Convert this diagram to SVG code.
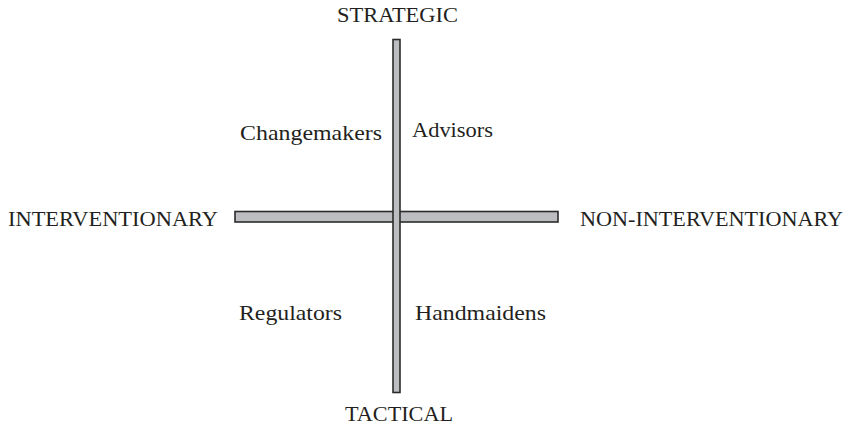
<svg xmlns="http://www.w3.org/2000/svg" width="848" height="428" viewBox="0 0 848 428">
<style>
.t{font-family:"Liberation Serif","Times New Roman",serif;font-size:20px;fill:#231f20}
.q{font-size:21px}
.bar{fill:#bcbdc0;stroke:#2b2b2b;stroke-width:1.6}
</style>
<rect width="848" height="428" fill="#fff"/>
<g id="axes">
<rect id="h-axis" class="bar" x="235" y="211.5" width="323" height="10.5"/>
<rect id="v-axis" class="bar" x="393" y="39.5" width="7" height="353"/>
</g>
<g id="strategic"><text class="t" x="337" y="22" textLength="121" lengthAdjust="spacingAndGlyphs">STRATEGIC</text></g>
<g id="tactical"><text class="t" x="345" y="421" textLength="108" lengthAdjust="spacingAndGlyphs">TACTICAL</text></g>
<g id="interventionary"><text class="t" x="8" y="226" textLength="210" lengthAdjust="spacingAndGlyphs">INTERVENTIONARY</text></g>
<g id="non-interventionary"><text class="t" x="580" y="226" textLength="263" lengthAdjust="spacingAndGlyphs">NON-INTERVENTIONARY</text></g>
<g id="changemakers"><text class="t q" x="240" y="140" textLength="142" lengthAdjust="spacingAndGlyphs">Changemakers</text></g>
<g id="advisors"><text class="t q" x="412" y="137" textLength="81" lengthAdjust="spacingAndGlyphs">Advisors</text></g>
<g id="regulators"><text class="t q" x="239" y="320" textLength="103" lengthAdjust="spacingAndGlyphs">Regulators</text></g>
<g id="handmaidens"><text class="t q" x="415" y="320" textLength="131" lengthAdjust="spacingAndGlyphs">Handmaidens</text></g>
</svg>
